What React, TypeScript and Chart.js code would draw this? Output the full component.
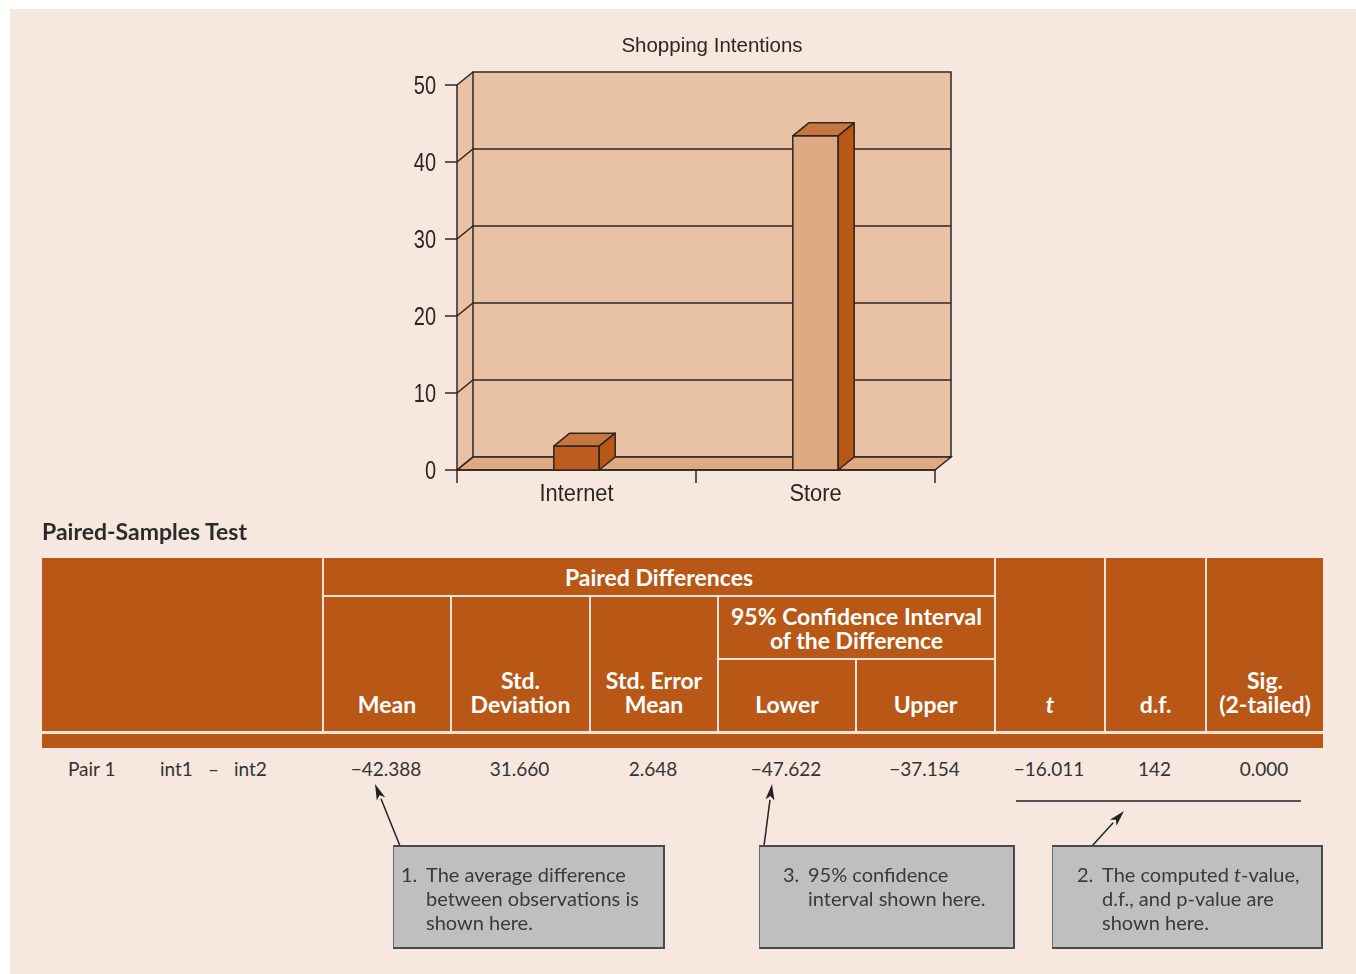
import React, { useEffect, useRef } from 'react';
import { Chart, registerables } from 'chart.js';

Chart.register(...registerables);

// ---------- data ----------
const chartTitle = 'Shopping Intentions';
const categories = ['Internet', 'Store'];
const intentionValues = [3.1, 43.4];
const yMin = 0;
const yMax = 50;
const yStep = 10;

const tableTitle = 'Paired-Samples Test';
const pairLabel = 'Pair 1';
const pairVars = ['int1', 'int2'];
const rowValues = ['−42.388', '31.660', '2.648', '−47.622', '−37.154', '−16.011', '142', '0.000'];

// ---------- styles ----------
const BG = '#f6e8de';
const WALL = '#e9c1a4';
const FLOOR = '#dfa984';
const LINE = '#2f2622';
const TABLE_ORANGE = '#b85716';
const BAR_FRONT = ['#bc5c1f', '#dfa983'];
const BAR_TOP = '#c8763f';
const BAR_SIDE = '#b85716';
const DX = 16;
const DY = -13;
const SANS = '"Liberation Sans", Arial, sans-serif';
const TABLE_FONT = 'Lato, "Open Sans", "Noto Sans", sans-serif';

const CANVAS_W = 1356;
const CANVAS_H = 520;

const poly = (ctx: CanvasRenderingContext2D, pts: number[][], fill?: string, stroke?: boolean) => {
  ctx.beginPath();
  ctx.moveTo(pts[0][0], pts[0][1]);
  for (let i = 1; i < pts.length; i++) ctx.lineTo(pts[i][0], pts[i][1]);
  ctx.closePath();
  if (fill) {
    ctx.fillStyle = fill;
    ctx.fill();
  }
  if (stroke) ctx.stroke();
};

const narrowText = (
  ctx: CanvasRenderingContext2D,
  text: string,
  x: number,
  y: number,
  size: number,
  sx: number,
  align: CanvasTextAlign
) => {
  ctx.save();
  ctx.font = `${size}px ${SANS}`;
  ctx.textAlign = align;
  ctx.textBaseline = 'alphabetic';
  ctx.translate(x, y);
  ctx.scale(sx, 1);
  ctx.fillText(text, 0, 0);
  ctx.restore();
};

const threeDPlugin = {
  id: 'threeD',
  beforeDatasetsDraw(chart: any) {
    const { ctx, chartArea: a, scales } = chart;
    const xs = scales.x;
    const ys = scales.y;
    const x0 = a.left;
    const x1 = a.right;
    const yb = ys.getPixelForValue(yMin);
    const yt = ys.getPixelForValue(yMax);
    ctx.save();
    ctx.lineWidth = 1.5;
    ctx.strokeStyle = LINE;
    // left wall
    poly(ctx, [[x0, yt], [x0 + DX, yt + DY], [x0 + DX, yb + DY], [x0, yb]], WALL);
    // back wall
    poly(ctx, [[x0 + DX, yt + DY], [x1 + DX, yt + DY], [x1 + DX, yb + DY], [x0 + DX, yb + DY]], WALL, true);
    // floor
    poly(ctx, [[x0, yb], [x1, yb], [x1 + DX, yb + DY], [x0 + DX, yb + DY]], FLOOR, true);
    // gridlines
    for (let v = yMin; v <= yMax; v += yStep) {
      const py = ys.getPixelForValue(v);
      ctx.beginPath();
      ctx.moveTo(x0, py);
      ctx.lineTo(x0 + DX, py + DY);
      if (v > yMin && v < yMax) ctx.lineTo(x1 + DX, py + DY);
      ctx.stroke();
      ctx.beginPath();
      ctx.moveTo(x0 - 12, py);
      ctx.lineTo(x0, py);
      ctx.stroke();
    }
    // front y axis
    ctx.beginPath();
    ctx.moveTo(x0, yt);
    ctx.lineTo(x0, yb);
    ctx.stroke();
    // x axis + ticks
    ctx.beginPath();
    ctx.moveTo(x0, yb);
    ctx.lineTo(x1, yb);
    ctx.stroke();
    const n = categories.length;
    const bounds: number[] = [x0];
    for (let i = 0; i < n - 1; i++) {
      bounds.push((xs.getPixelForValue(i) + xs.getPixelForValue(i + 1)) / 2);
    }
    bounds.push(x1);
    bounds.forEach((bx) => {
      ctx.beginPath();
      ctx.moveTo(bx, yb);
      ctx.lineTo(bx, yb + 13);
      ctx.stroke();
    });
    // labels
    ctx.fillStyle = '#2a2624';
    for (let v = yMin; v <= yMax; v += yStep) {
      narrowText(ctx, String(v), x0 - 21, ys.getPixelForValue(v) + 9, 25, 0.8, 'right');
    }
    categories.forEach((c, i) => {
      narrowText(ctx, c, xs.getPixelForValue(i), yb + 31, 23, 0.95, 'center');
    });
    narrowText(ctx, chartTitle, (x0 + x1 + DX) / 2 + 8, 52, 20.5, 1, 'center');
    ctx.restore();
  },
  afterDatasetsDraw(chart: any) {
    const { ctx } = chart;
    const meta = chart.getDatasetMeta(0);
    ctx.save();
    ctx.lineWidth = 1.5;
    ctx.strokeStyle = LINE;
    ctx.lineJoin = 'round';
    meta.data.forEach((bar: any) => {
      const { x, y, base, width } = bar.getProps(['x', 'y', 'base', 'width'], true);
      const l = x - width / 2;
      const r = x + width / 2;
      poly(ctx, [[l, y], [r, y], [r + DX, y + DY], [l + DX, y + DY]], BAR_TOP, true);
      poly(ctx, [[r, y], [r + DX, y + DY], [r + DX, base + DY], [r, base]], BAR_SIDE, true);
      ctx.strokeRect(l, y, width, base - y);
    });
    ctx.restore();
  },
};

function ShoppingChart() {
  const ref = useRef<HTMLCanvasElement | null>(null);
  useEffect(() => {
    if (!ref.current) return;
    const chart = new Chart(ref.current, {
      type: 'bar',
      data: {
        labels: categories,
        datasets: [
          {
            data: intentionValues,
            backgroundColor: BAR_FRONT,
            borderWidth: 0,
            categoryPercentage: 1,
            barPercentage: 0.19,
          },
        ],
      },
      options: {
        responsive: false,
        animation: false,
        devicePixelRatio: 1,
        layout: { padding: { left: 457, right: CANVAS_W - 935, top: 85, bottom: CANVAS_H - 470 } },
        plugins: { legend: { display: false }, tooltip: { enabled: false }, title: { display: false } },
        scales: {
          x: { display: false, offset: true },
          y: { display: false, min: yMin, max: yMax },
        },
      },
      plugins: [threeDPlugin],
    } as any);
    return () => chart.destroy();
  }, []);
  return (
    <canvas
      ref={ref}
      width={CANVAS_W}
      height={CANVAS_H}
      style={{ position: 'absolute', left: 0, top: 0, width: CANVAS_W, height: CANVAS_H }}
    />
  );
}

const cols = [42, 322, 450, 589, 717, 855, 994, 1104, 1205, 1323];
const W = '2px solid #f3e2d6';

function HeaderCell(props: { x0: number; x1: number; y0: number; y1: number; children?: any; align?: string; lb?: boolean }) {
  const { x0, x1, y0, y1, children, lb } = props;
  return (
    <div
      style={{
        position: 'absolute',
        left: x0,
        top: y0,
        width: x1 - x0,
        height: y1 - y0,
        boxSizing: 'border-box',
        borderLeft: lb ? W : 'none',
        display: 'flex',
        alignItems: props.align === 'center' ? 'center' : 'flex-end',
        justifyContent: 'center',
        textAlign: 'center',
        color: '#fff',
        fontWeight: 700,
        fontSize: 23,
        lineHeight: '24px',
        whiteSpace: 'nowrap',
        paddingBottom: props.align === 'center' ? 0 : 16,
      }}
    >
      <div>{children}</div>
    </div>
  );
}

function Arrow(props: { x1: number; y1: number; x2: number; y2: number }) {
  const { x1, y1, x2, y2 } = props;
  const ang = Math.atan2(y2 - y1, x2 - x1);
  const len = 16;
  const hw = 4.5;
  const bx = x2 - len * Math.cos(ang);
  const by = y2 - len * Math.sin(ang);
  const px = -Math.sin(ang) * hw;
  const py = Math.cos(ang) * hw;
  return (
    <g>
      <line x1={x1} y1={y1} x2={bx} y2={by} stroke="#222" strokeWidth={1.5} />
      <polygon
        points={`${x2},${y2} ${bx + px},${by + py} ${bx + 4 * Math.cos(ang)},${by + 4 * Math.sin(ang)} ${bx - px},${by - py}`}
        fill="#222"
      />
    </g>
  );
}

function NoteBox(props: { x: number; y: number; w: number; h: number; num: string; lines: any[]; indent: number }) {
  const { x, y, w, h, num, lines, indent } = props;
  return (
    <div
      style={{
        position: 'absolute',
        left: x,
        top: y,
        width: w,
        height: h,
        boxSizing: 'border-box',
        background: '#bebfc1',
        borderTop: '2px solid #4a4a4a',
        borderBottom: '2px solid #4a4a4a',
        borderLeft: '1px solid #6a6a6a',
        borderRight: '2px solid #4a4a4a',
        color: '#3a3a3a',
        fontFamily: TABLE_FONT,
        fontSize: 20,
        lineHeight: '24px',
        paddingTop: 15,
      }}
    >
      {lines.map((ln, i) => (
        <div key={i} style={{ position: 'relative', paddingLeft: indent, whiteSpace: 'nowrap' }}>
          {i === 0 ? <span style={{ position: 'absolute', left: indent - 25 }}>{num}</span> : null}
          {ln}
        </div>
      ))}
    </div>
  );
}

export default function App() {
  const hy0 = 558;
  const hy1 = 732;
  return (
    <div style={{ position: 'absolute', left: 0, top: 0, width: 1356, height: 974, background: '#fff', overflow: 'hidden' }}>
      <div style={{ position: 'absolute', left: 10, top: 9, width: 1346, height: 965, background: BG }} />
      <ShoppingChart />
      <div
        style={{
          position: 'absolute',
          left: 42,
          top: 517,
          fontFamily: TABLE_FONT,
          fontWeight: 700,
          fontSize: 23,
          color: '#2b2b2b',
          whiteSpace: 'nowrap',
        }}
      >
        {tableTitle}
      </div>
      {/* table header */}
      <div style={{ position: 'absolute', left: 42, top: hy0, width: 1323 - 42, height: hy1 - hy0, background: TABLE_ORANGE }} />
      <div style={{ position: 'absolute', left: 42, top: hy1 + 2, width: 1323 - 42, height: 14, background: TABLE_ORANGE }} />
      <div style={{ fontFamily: TABLE_FONT }}>
        <HeaderCell x0={322} x1={994} y0={hy0} y1={596} align="center" lb>
          Paired Differences
        </HeaderCell>
        <div style={{ position: 'absolute', left: 322, top: 595, width: 994 - 322, height: 0, borderTop: W }} />
        <HeaderCell x0={322} x1={450} y0={597} y1={hy1} lb>
          Mean
        </HeaderCell>
        <HeaderCell x0={450} x1={589} y0={597} y1={hy1} lb>
          Std.
          <br />
          Deviation
        </HeaderCell>
        <HeaderCell x0={589} x1={717} y0={597} y1={hy1} lb>
          Std. Error
          <br />
          Mean
        </HeaderCell>
        <HeaderCell x0={717} x1={994} y0={597} y1={659} align="center" lb>
          95% Confidence Interval
          <br />
          of the Difference
        </HeaderCell>
        <div style={{ position: 'absolute', left: 717, top: 658, width: 994 - 717, height: 0, borderTop: W }} />
        <HeaderCell x0={717} x1={855} y0={660} y1={hy1} lb>
          Lower
        </HeaderCell>
        <HeaderCell x0={855} x1={994} y0={660} y1={hy1} lb>
          Upper
        </HeaderCell>
        <HeaderCell x0={994} x1={1104} y0={hy0} y1={hy1} lb>
          <i>t</i>
        </HeaderCell>
        <HeaderCell x0={1104} x1={1205} y0={hy0} y1={hy1} lb>
          d.f.
        </HeaderCell>
        <HeaderCell x0={1205} x1={1323} y0={hy0} y1={hy1} lb>
          Sig.
          <br />
          (2-tailed)
        </HeaderCell>
        <div style={{ position: 'absolute', left: 42, top: hy1 - 1, width: 1323 - 42, height: 0, borderTop: W }} />
      </div>
      {/* data row */}
      <div style={{ fontFamily: TABLE_FONT, fontSize: 19, color: '#333', whiteSpace: 'nowrap' }}>
        <div style={{ position: 'absolute', left: 68, top: 757 }}>{pairLabel}</div>
        <div style={{ position: 'absolute', left: 160, top: 757 }}>
          {pairVars[0]}
          <span style={{ margin: '0 15px' }}>–</span>
          {pairVars[1]}
        </div>
        {rowValues.map((v, i) => (
          <div
            key={i}
            style={{ position: 'absolute', left: cols[i + 1], width: cols[i + 2] - cols[i + 1], top: 757, textAlign: 'center' }}
          >
            {v}
          </div>
        ))}
      </div>
      <div style={{ position: 'absolute', left: 1016, top: 800, width: 285, height: 0, borderTop: '2px solid #555' }} />
      <svg width={1356} height={974} style={{ position: 'absolute', left: 0, top: 0, pointerEvents: 'none' }}>
        <Arrow x1={400} y1={846} x2={375} y2={784} />
        <Arrow x1={764} y1={846} x2={772} y2={784} />
        <Arrow x1={1092} y1={846} x2={1124} y2={811} />
      </svg>
      <NoteBox
        x={393}
        y={845}
        w={272}
        h={104}
        num="1."
        indent={32}
        lines={['The average difference', 'between observations is', 'shown here.']}
      />
      <NoteBox x={759} y={845} w={256} h={104} num="3." indent={48} lines={['95% confidence', 'interval shown here.']} />
      <NoteBox
        x={1052}
        y={845}
        w={271}
        h={104}
        num="2."
        indent={49}
        lines={[
          <span key="a">
            The computed <i>t</i>-value,
          </span>,
          'd.f., and p-value are',
          'shown here.',
        ]}
      />
    </div>
  );
}
